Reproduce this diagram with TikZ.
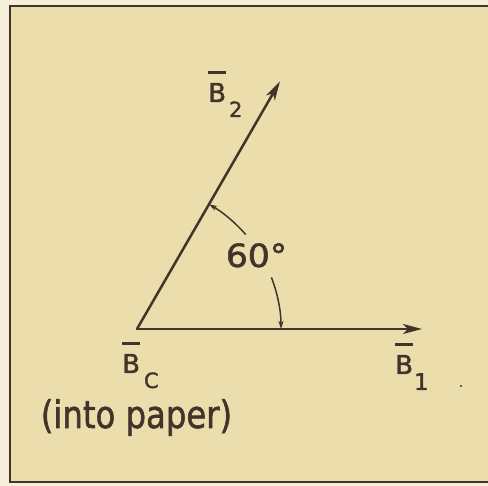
\documentclass[tikz,border=0pt]{standalone}
\usepackage{fontspec}
\usepackage{graphicx}
\setmainfont{DejaVu Sans}[FakeBold=1.6]
\newfontfamily\lerfont{DejaVu Sans}[FakeBold=1.6]
\usetikzlibrary{arrows.meta,calc}
\definecolor{ink}{RGB}{66,52,44}
\definecolor{paperin}{RGB}{236,222,172}
\definecolor{paperout}{RGB}{244,238,218}
\newcommand\ovB{\leavevmode\rlap{\color{ink}\rule[28pt]{18pt}{3pt}}B}
\newcommand\subsz{\fontsize{21}{21}\selectfont}
\tikzset{
  lbl/.style={inner sep=0pt, text=ink, font=\lerfont\fontsize{26}{28}\selectfont},
  vec/.style={draw=ink, line width=2.5pt, -{Stealth[length=19pt,width=10pt,inset=5pt]}},
  arcline/.style={draw=ink, line width=1.5pt},
  arctip/.tip={Stealth[length=8pt,width=5pt,inset=2pt]}
}
\begin{document}
\begin{tikzpicture}[x=1pt,y=1pt]
\useasboundingbox (0,0) rectangle (488,486);
\clip (0,0) rectangle (488,486);
\fill[paperout] (0,0) rectangle (488,486);
\filldraw[fill=paperin, draw=ink, line width=1.6pt] (10,4) rectangle (500,480);
% vectors
\coordinate (O) at (137,157);
\coordinate (B1) at (422,157);
\coordinate (B2) at ($(O)+(60:286)$);
\draw[vec, line cap=round] (O) -- (B1);
\draw[vec, line cap=round] (O) -- (B2);
% angle arcs
\draw[arcline, arctip-] ($(O)+(60:144)$) arc[start angle=60, end angle=41, radius=144];
\draw[arcline, -arctip] ($(O)+(21:144)$) arc[start angle=21, end angle=0, radius=144];
% labels
\node[lbl, anchor=base, font=\lerfont\fontsize{32}{34}\selectfont] (ang) at (256.5,219) {\scalebox{1.08}[1]{60°}};
\node[lbl, anchor=base west] (lb2) at (208,384) {\ovB\hspace{3pt}\raisebox{-15pt}{\subsz 2}};
\node[lbl, anchor=base west] (lbc) at (122,113) {\ovB\hspace{4pt}\raisebox{-15pt}{\subsz C}};
\node[lbl, anchor=base west] (lb1) at (395,112) {\ovB\hspace{1pt}\raisebox{-16pt}{\fontsize{23}{23}\selectfont 1}};
\node[lbl, anchor=base, font=\lerfont\fontsize{38}{40}\selectfont] (into) at (136.5,58) {\scalebox{0.85}[1]{(into paper)}};
\fill[ink] (461,100) circle (1.2);
\end{tikzpicture}
\end{document}
